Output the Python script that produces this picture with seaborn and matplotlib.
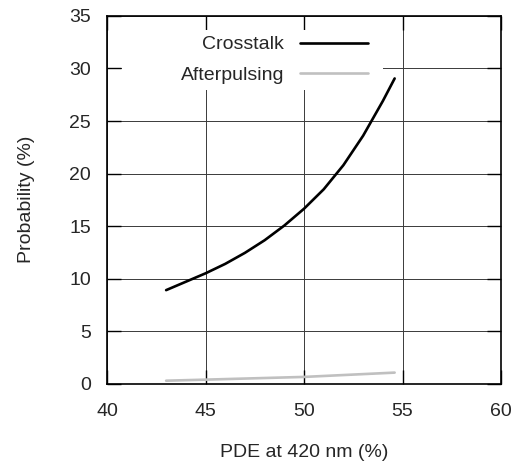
import matplotlib
matplotlib.use("Agg")
import matplotlib.pyplot as plt
from matplotlib.patches import Rectangle
import seaborn as sns
import pandas as pd

# Data
pde_crosstalk = [43.0, 44.0, 45.0, 46.0, 47.0, 48.0, 49.0, 50.0, 51.0, 52.0, 53.0, 54.0, 54.6]
crosstalk = [8.9, 9.7, 10.5, 11.4, 12.45, 13.65, 15.05, 16.65, 18.5, 20.8, 23.6, 26.9, 29.05]
pde_afterpulsing = [43.0, 45.0, 50.0, 54.6]
afterpulsing = [0.28, 0.38, 0.64, 1.05]
x_ticks = [40, 45, 50, 55, 60]
y_ticks = [0, 5, 10, 15, 20, 25, 30, 35]

sns.set_theme(style="ticks")
plt.rcParams["font.family"] = ["Liberation Sans", "DejaVu Sans"]

df_ct = pd.DataFrame({"pde": pde_crosstalk, "prob": crosstalk})
df_ap = pd.DataFrame({"pde": pde_afterpulsing, "prob": afterpulsing})

fig, ax = plt.subplots(figsize=(5.16, 4.69), dpi=100)
fig.subplots_adjust(left=0.2074, right=0.971, bottom=0.182, top=0.966)

sns.lineplot(data=df_ct, x="pde", y="prob", ax=ax, color="black", linewidth=1.9,
             label="Crosstalk", zorder=3)
sns.lineplot(data=df_ap, x="pde", y="prob", ax=ax, color="#c0c0c0", linewidth=1.9,
             label="Afterpulsing", zorder=3)

ax.set_xlim(40, 60)
ax.set_ylim(0, 35)
ax.set_xticks(x_ticks)
ax.set_yticks(y_ticks)
ax.grid(True, color="#3a3a3a", linewidth=0.7, zorder=0.5)
ax.set_axisbelow(True)
for s in ax.spines.values():
    s.set_visible(True)
    s.set_linewidth(1.2)
    s.set_color("black")
ax.tick_params(axis="both", which="major", direction="in", length=10, width=1.0,
               color="black", labelsize=14, top=True, right=True)
ax.tick_params(axis="x", pad=14)
ax.tick_params(axis="y", pad=11.5)
ax.set_xlabel("PDE at 420 nm (%)", fontsize=14, labelpad=17)
ax.set_ylabel("Probability (%)", fontsize=14, labelpad=25)

# white key box behind the legend (covers the grid, as in the reference)
ax.add_patch(Rectangle((0.038, 0.798), 0.662, 0.164, transform=ax.transAxes,
                       facecolor="white", edgecolor="none", zorder=2))

leg = ax.legend(loc="upper right", bbox_to_anchor=(0.677, 0.962), markerfirst=False,
                fontsize=14, frameon=True, fancybox=False, framealpha=1.0,
                facecolor="white", edgecolor="none", handlelength=3.5,
                handletextpad=0.8, labelspacing=0.65, borderpad=0.3,
                borderaxespad=0.0)
leg.set_zorder(5)

fig.savefig("out.png", dpi=100)
